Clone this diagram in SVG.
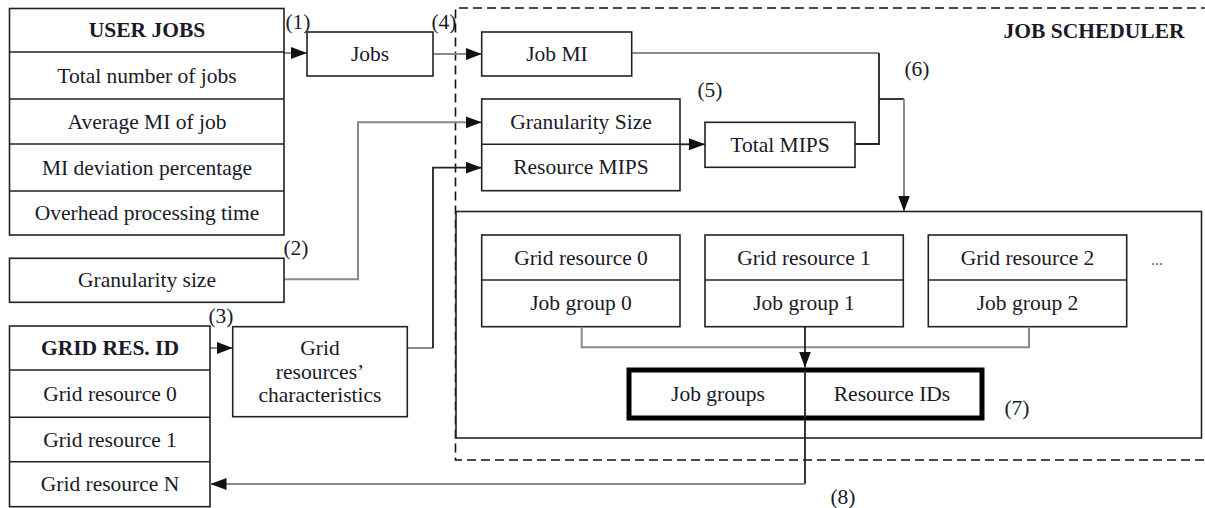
<svg xmlns="http://www.w3.org/2000/svg" width="1205" height="508" viewBox="0 0 1205 508">
<defs>
<marker id="ah" markerUnits="userSpaceOnUse" markerWidth="16" markerHeight="12" refX="16" refY="6" orient="auto">
<path d="M0,0 L16,6 L0,12 z" fill="#111"/>
</marker>
<style>
.box{fill:#fff;stroke:#222;stroke-width:1.6}
.div{stroke:#222;stroke-width:1.6;fill:none}
.thick{fill:#fff;stroke:#000;stroke-width:5}
.t{font-family:"Liberation Serif","Times New Roman",serif;font-size:21.5px;fill:#1a1a2a;text-anchor:middle;dominant-baseline:central}
.b{font-weight:bold}
.g{stroke:#8a8a8a;stroke-width:2;fill:none}
.k{stroke:#222;stroke-width:1.8;fill:none}
.dash{stroke:#111;stroke-width:1.6;fill:none;stroke-dasharray:9 5}
</style>
</defs>

<g id="job-scheduler-frame">
<path class="dash" d="M1210,8 H455.5 V460 H1210"/>
<text class="t b" x="1094" y="31">JOB SCHEDULER</text>
</g>

<g id="connectors">
<path class="g" d="M284,53 H307" marker-end="url(#ah)"/>
<path class="g" d="M433,54 H481.7" marker-end="url(#ah)"/>
<path class="g" d="M632,53 H879"/>
<path class="k" d="M879,53 V144 H855"/>
<path class="k" d="M879,99 H904"/>
<path class="g" d="M904,99 V211.5" marker-end="url(#ah)"/>
<path class="g" d="M284,279.3 H358 V122.3 H481.7" marker-end="url(#ah)"/>
<path class="g" d="M407,348 H433"/>
<path class="k" d="M433,348 V167.7 H481.7" marker-end="url(#ah)"/>
<path class="k" d="M680,144.3 H705" marker-end="url(#ah)"/>
<path class="g" d="M210,348 H232.7" marker-end="url(#ah)"/>
</g>

<g id="user-jobs">
<rect class="box" x="9.5" y="8.5" width="274.5" height="226.5"/>
<path class="div" d="M9.5,52 H284 M9.5,99 H284 M9.5,144 H284 M9.5,191 H284"/>
<text class="t b" x="147" y="30">USER JOBS</text>
<text class="t" x="147" y="75.5">Total number of jobs</text>
<text class="t" x="147" y="121.5">Average MI of job</text>
<text class="t" x="147" y="167.5">MI deviation percentage</text>
<text class="t" x="147" y="213">Overhead processing time</text>
</g>

<g id="jobs">
<rect class="box" x="307" y="32" width="126" height="44"/>
<text class="t" x="370" y="54">Jobs</text>
</g>

<g id="granularity-size-input">
<rect class="box" x="9.5" y="258.3" width="274.5" height="44"/>
<text class="t" x="147" y="280">Granularity size</text>
</g>

<g id="grid-res-id">
<rect class="box" x="9.5" y="326" width="200.5" height="180.7"/>
<path class="div" d="M9.5,370 H210 M9.5,417.3 H210 M9.5,461.7 H210"/>
<text class="t b" x="110" y="348">GRID RES. ID</text>
<text class="t" x="110" y="393.5">Grid resource 0</text>
<text class="t" x="110" y="439.5">Grid resource 1</text>
<text class="t" x="110" y="484">Grid resource N</text>
</g>

<g id="grid-characteristics">
<rect class="box" x="232.7" y="326.7" width="174.6" height="90"/>
<text class="t" x="320" y="347.5">Grid</text>
<text class="t" x="320" y="371.5">resources’</text>
<text class="t" x="320" y="395">characteristics</text>
</g>

<g id="job-mi">
<rect class="box" x="481.7" y="32" width="150" height="44"/>
<text class="t" x="557" y="54">Job MI</text>
</g>

<g id="granularity-resource-mips">
<rect class="box" x="481.7" y="99" width="198.3" height="91.7"/>
<path class="div" d="M481.7,144.3 H680"/>
<text class="t" x="581" y="122">Granularity Size</text>
<text class="t" x="581" y="167">Resource MIPS</text>
</g>

<g id="total-mips">
<rect class="box" x="705" y="122.3" width="150" height="45"/>
<text class="t" x="780" y="144.8">Total MIPS</text>
</g>

<g id="grouping-box">
<rect class="box" x="456" y="211.5" width="745.5" height="226.5"/>
</g>

<g id="grid-resource-0">
<rect class="box" x="481.7" y="235" width="198.3" height="91.7"/>
<path class="div" d="M481.7,280 H680"/>
<text class="t" x="581" y="257.5">Grid resource 0</text>
<text class="t" x="581" y="303">Job group 0</text>
</g>

<g id="grid-resource-1">
<rect class="box" x="705" y="235" width="198.3" height="91.7"/>
<path class="div" d="M705,280 H903.3"/>
<text class="t" x="804" y="257.5">Grid resource 1</text>
<text class="t" x="804" y="303">Job group 1</text>
</g>

<g id="grid-resource-2">
<rect class="box" x="928.3" y="235" width="198.4" height="91.7"/>
<path class="div" d="M928.3,280 H1126.7"/>
<text class="t" x="1027.5" y="257.5">Grid resource 2</text>
<text class="t" x="1027.5" y="303">Job group 2</text>
</g>

<g id="more">
<text class="t" x="1157" y="259" style="font-size:16px;fill:#667">...</text>
</g>

<g id="job-groups-resource-ids">
<rect class="thick" x="629" y="370" width="353" height="48"/>
<text class="t" x="718" y="394">Job groups</text>
<text class="t" x="892" y="394">Resource IDs</text>
</g>

<g id="connectors-inner">
<path class="g" d="M581.7,326.7 V347.3 H1029 V326.7"/>
<path class="k" d="M805,326.7 V367.5" marker-end="url(#ah)"/>
<path class="k" d="M805,370 V484"/>
<path class="g" d="M805,484 H210.5" marker-end="url(#ah)"/>
</g>

<g id="labels">
<text class="t" x="298" y="22">(1)</text>
<text class="t" x="444" y="22">(4)</text>
<text class="t" x="710" y="90">(5)</text>
<text class="t" x="917" y="69">(6)</text>
<text class="t" x="296" y="248">(2)</text>
<text class="t" x="221" y="316">(3)</text>
<text class="t" x="1017" y="408">(7)</text>
<text class="t" x="843" y="497">(8)</text>
</g>
</svg>
